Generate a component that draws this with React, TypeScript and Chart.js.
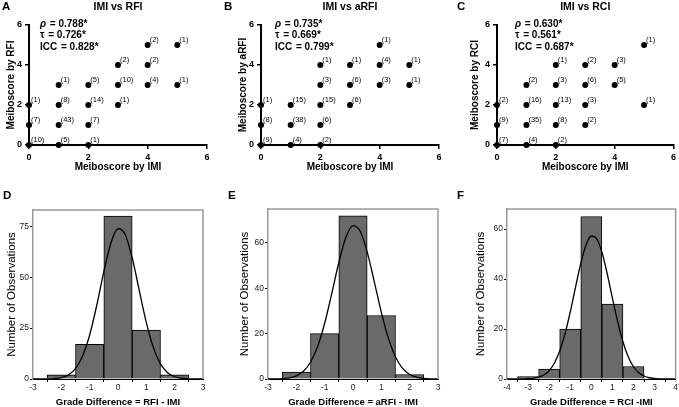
import React, { useEffect, useRef } from 'react';
import { Chart, registerables } from 'chart.js';

Chart.register(...registerables);

const FONT = "'Liberation Sans', Arial, Helvetica, sans-serif";

// ---------- Scatter panels (A, B, C) ----------
const scoreTicks = [0, 2, 4, 6];

const aImi = [0, 0, 0, 1, 1, 1, 1, 2, 2, 2, 2, 3, 3, 3, 4, 4, 4, 5, 5];
const aRfi = [0, 1, 2, 0, 1, 2, 3, 0, 1, 2, 3, 2, 3, 4, 3, 4, 5, 3, 5];
const aCounts = [10, 7, 1, 5, 43, 8, 1, 1, 7, 14, 5, 1, 10, 2, 4, 2, 2, 1, 1];
const aStats = ['0.788*', '0.726*', '0.828*'];

const bImi = [0, 0, 0, 1, 1, 1, 2, 2, 2, 2, 2, 3, 3, 3, 4, 4, 4, 5, 5];
const bArfi = [0, 1, 2, 0, 1, 2, 0, 1, 2, 3, 4, 2, 3, 4, 3, 4, 5, 3, 4];
const bCounts = [9, 8, 1, 4, 38, 15, 2, 6, 15, 3, 1, 6, 6, 1, 3, 4, 1, 1, 1];
const bStats = ['0.735*', '0.669*', '0.799*'];

const cImi = [0, 0, 0, 1, 1, 1, 1, 2, 2, 2, 2, 2, 3, 3, 3, 3, 4, 4, 5, 5];
const cRci = [0, 1, 2, 0, 1, 2, 3, 0, 1, 2, 3, 4, 1, 2, 3, 4, 3, 4, 2, 5];
const cCounts = [7, 9, 2, 4, 35, 16, 2, 2, 8, 13, 3, 1, 2, 3, 6, 2, 5, 3, 1, 1];
const cStats = ['0.630*', '0.561*', '0.687*'];

const statNames = ['ρ', 'τ', 'ICC'];

// ---------- Histogram panels (D, E, F) ----------
const dBins = [-2, -1, 0, 1, 2];
const dCounts = [2, 17, 80, 24, 2];
const dXTicks = [-3, -2, -1, 0, 1, 2, 3];
const dYTicks = [0, 25, 50, 75];
const dCurveX = [-3, -2.75, -2.5, -2.25, -2, -1.75, -1.5, -1.25, -1, -0.75, -0.5, -0.25, 0, 0.25, 0.5, 0.75, 1, 1.25, 1.5, 1.75, 2, 2.25, 2.5, 2.75, 3];
const dCurveY = [0, 0.01, 0.05, 0.21, 0.7, 2.0, 5.1, 11.3, 21.6, 36.2, 52.7, 66.8, 73.8, 71.1, 59.6, 43.5, 27.7, 15.4, 7.4, 3.1, 1.1, 0.36, 0.1, 0.02, 0];

const eBins = [-2, -1, 0, 1, 2];
const eCounts = [3, 20, 72, 28, 2];
const eXTicks = [-3, -2, -1, 0, 1, 2, 3];
const eYTicks = [0, 20, 40, 60];
const eCurveX = [-3, -2.75, -2.5, -2.25, -2, -1.75, -1.5, -1.25, -1, -0.75, -0.5, -0.25, 0, 0.25, 0.5, 0.75, 1, 1.25, 1.5, 1.75, 2, 2.25, 2.5, 2.75, 3];
const eCurveY = [0.01, 0.05, 0.17, 0.52, 1.4, 3.4, 7.4, 14.3, 24.6, 37.7, 51.4, 62.5, 67.7, 65.3, 56.1, 43.0, 29.4, 17.9, 9.7, 4.7, 2.0, 0.77, 0.26, 0.08, 0.02];

const fBins = [-3, -2, -1, 0, 1, 2];
const fCounts = [1, 4, 20, 65, 30, 5];
const fXTicks = [-4, -3, -2, -1, 0, 1, 2, 3, 4];
const fYTicks = [0, 20, 40, 60];
const fCurveX = [-4, -3.75, -3.5, -3.25, -3, -2.75, -2.5, -2.25, -2, -1.75, -1.5, -1.25, -1, -0.75, -0.5, -0.25, 0, 0.25, 0.5, 0.75, 1, 1.25, 1.5, 1.75, 2, 2.25, 2.5, 2.75, 3, 3.25, 3.5, 3.75, 4];
const fCurveY = [0, 0, 0.01, 0.04, 0.11, 0.29, 0.72, 1.6, 3.3, 6.4, 11.2, 18.0, 26.8, 36.7, 46.2, 53.6, 57.2, 56.2, 50.8, 42.3, 32.4, 22.9, 14.9, 8.9, 4.9, 2.5, 1.2, 0.5, 0.2, 0.07, 0.02, 0, 0];

type Pad = { left: number; right: number; top: number; bottom: number };

type ScatterProps = {
  left: number; top: number; width: number; height: number;
  pad: Pad; yWidth: number;
  xs: number[]; ys: number[]; counts: number[];
  title: string; letter: string; letterX: number;
  yTitle: string; stats: string[]; statsDx: number;
};

function ScatterPanel(props: ScatterProps) {
  const ref = useRef<HTMLCanvasElement>(null);
  useEffect(() => {
    const p = props;
    const decor = {
      id: 'decor',
      afterDatasetsDraw(chart: any) {
        const ctx = chart.ctx;
        const area = chart.chartArea;
        ctx.save();
        ctx.fillStyle = '#000';
        // count labels
        ctx.font = `7.5px ${FONT}`;
        ctx.textAlign = 'left';
        ctx.textBaseline = 'middle';
        const meta = chart.getDatasetMeta(0);
        meta.data.forEach((el: any, i: number) => {
          ctx.fillText(`(${p.counts[i]})`, el.x + 2, el.y - 5.5);
        });
        // panel letter
        ctx.font = `bold 11.5px ${FONT}`;
        ctx.fillText(p.letter, p.letterX, 7);
        // title
        ctx.textAlign = 'center';
        ctx.font = `bold 10.5px ${FONT}`;
        ctx.fillText(p.title, (area.left + area.right) / 2, 7);
        // stats
        ctx.textAlign = 'left';
        const sx = area.left + p.statsDx;
        statNames.forEach((name, i) => {
          const y = 24 + i * 11.5;
          ctx.font = (i === 0 ? 'italic ' : '') + `bold 10px ${FONT}`;
          ctx.fillText(name, sx, y);
          const w = ctx.measureText(name).width;
          ctx.font = `bold 10px ${FONT}`;
          ctx.fillText(' = ' + p.stats[i], sx + w + 1, y);
        });
        ctx.restore();
      },
    };
    const axisCommon = {
      type: 'linear' as const,
      min: 0,
      max: 6,
      afterBuildTicks: (s: any) => { s.ticks = scoreTicks.map((v) => ({ value: v })); },
      border: { display: true, color: '#000', width: 2 },
      grid: { display: true, drawOnChartArea: false, drawTicks: true, tickLength: 4, color: '#000', lineWidth: 1.5 },
      ticks: { color: '#000', font: { family: FONT, size: 9, weight: 'bold' as const }, padding: 3, maxRotation: 0, autoSkip: false },
    };
    const chart = new Chart(ref.current!, {
      type: 'scatter',
      data: {
        datasets: [{
          data: p.xs.map((x, i) => ({ x, y: p.ys[i] })),
          pointRadius: 3,
          pointHoverRadius: 3,
          backgroundColor: '#000',
          borderColor: '#000',
          borderWidth: 0,
          clip: false as any,
        }],
      },
      options: {
        responsive: false,
        animation: false,
        events: [],
        layout: { padding: p.pad },
        plugins: { legend: { display: false }, tooltip: { enabled: false } },
        scales: {
          x: {
            ...axisCommon,
            position: 'bottom',
            afterFit: (s: any) => { s.height = 30; },
            title: { display: true, text: 'Meiboscore by IMI', color: '#000', font: { family: FONT, size: 10, weight: 'bold' }, padding: { top: 0, bottom: 2 } },
          },
          y: {
            ...axisCommon,
            position: 'left',
            afterFit: (s: any) => { s.width = p.yWidth; },
            title: { display: true, text: p.yTitle, color: '#000', font: { family: FONT, size: 10, weight: 'bold' }, padding: { top: 2.5, bottom: 0 } },
          },
        },
      } as any,
      plugins: [decor],
    });
    return () => chart.destroy();
  }, []);
  return (
    <canvas
      ref={ref}
      width={props.width}
      height={props.height}
      style={{ position: 'absolute', left: props.left, top: props.top, width: props.width, height: props.height }}
    />
  );
}

type HistProps = {
  left: number; top: number; width: number; height: number;
  pad: Pad; yWidth: number;
  bins: number[]; counts: number[]; curveX: number[]; curveY: number[];
  xTicks: number[]; yTicks: number[]; xMin: number; xMax: number; yMax: number;
  xTitle: string; letter: string; letterX: number;
};

function HistPanel(props: HistProps) {
  const ref = useRef<HTMLCanvasElement>(null);
  useEffect(() => {
    const p = props;
    const decor = {
      id: 'decor',
      afterDraw(chart: any) {
        const ctx = chart.ctx;
        const { left, right, top, bottom } = chart.chartArea;
        ctx.save();
        ctx.strokeStyle = '#9a9a9a';
        ctx.lineWidth = 1.5;
        ctx.beginPath();
        ctx.moveTo(left, top);
        ctx.lineTo(right, top);
        ctx.lineTo(right, bottom);
        ctx.stroke();
        ctx.fillStyle = '#000';
        ctx.font = `bold 11.5px ${FONT}`;
        ctx.textAlign = 'left';
        ctx.textBaseline = 'middle';
        ctx.fillText(p.letter, p.letterX, 11);
        ctx.restore();
      },
    };
    const chart = new Chart(ref.current!, {
      type: 'bar',
      data: {
        datasets: [
          {
            type: 'line',
            data: p.curveX.map((x, i) => ({ x, y: p.curveY[i] })),
            borderColor: '#000',
            borderWidth: 1.3,
            pointRadius: 0,
            tension: 0.4,
            cubicInterpolationMode: 'monotone',
            fill: false,
            order: 0,
          },
          {
            type: 'bar',
            data: p.bins.map((x, i) => ({ x, y: p.counts[i] })),
            backgroundColor: '#6a6a6a',
            borderColor: '#000',
            borderWidth: 1,
            barPercentage: 1,
            categoryPercentage: 1,
            order: 1,
          },
        ],
      } as any,
      options: {
        responsive: false,
        animation: false,
        events: [],
        layout: { padding: p.pad },
        plugins: { legend: { display: false }, tooltip: { enabled: false } },
        scales: {
          x: {
            type: 'linear',
            min: p.xMin,
            max: p.xMax,
            offset: false,
            afterBuildTicks: (s: any) => { s.ticks = p.xTicks.map((v) => ({ value: v })); },
            afterFit: (s: any) => { s.height = 28; },
            border: { display: true, color: '#000', width: 1 },
            grid: { display: true, drawOnChartArea: false, drawTicks: true, tickLength: 3, color: '#000', lineWidth: 1 },
            ticks: { color: '#222', font: { family: FONT, size: 8.5 }, padding: 1, maxRotation: 0, autoSkip: false },
            title: { display: true, text: p.xTitle, color: '#000', font: { family: FONT, size: 9.5, weight: 'bold', lineHeight: 1 }, padding: { top: 0, bottom: 0 } },
          },
          y: {
            type: 'linear',
            min: 0,
            max: p.yMax,
            afterBuildTicks: (s: any) => { s.ticks = p.yTicks.map((v) => ({ value: v })); },
            afterFit: (s: any) => { s.width = p.yWidth; },
            border: { display: true, color: '#9a9a9a', width: 1.5 },
            grid: { display: true, drawOnChartArea: false, drawTicks: true, tickLength: 3, color: '#000', lineWidth: 1 },
            ticks: { color: '#222', font: { family: FONT, size: 8.5 }, padding: 1, autoSkip: false },
            title: { display: true, text: 'Number of Observations', color: '#000', font: { family: FONT, size: 11.5 }, padding: { top: 3, bottom: 0 } },
          },
        },
      } as any,
      plugins: [decor],
    });
    return () => chart.destroy();
  }, []);
  return (
    <canvas
      ref={ref}
      width={props.width}
      height={props.height}
      style={{ position: 'absolute', left: props.left, top: props.top, width: props.width, height: props.height }}
    />
  );
}

export default function App() {
  return (
    <div style={{ position: 'fixed', left: 0, top: 0, width: 679, height: 407, background: '#fff', overflow: 'hidden' }}>
      <ScatterPanel left={0} top={0} width={220} height={195} pad={{ left: 2.5, right: 13, top: 25, bottom: 20 }} yWidth={26.5}
        xs={aImi} ys={aRfi} counts={aCounts} title="IMI vs RFI" letter="A" letterX={2} yTitle="Meiboscore by RFI" stats={aStats} statsDx={11} />
      <ScatterPanel left={220} top={0} width={232} height={195} pad={{ left: 14.5, right: 13, top: 25, bottom: 20 }} yWidth={26.5}
        xs={bImi} ys={bArfi} counts={bCounts} title="IMI vs aRFI" letter="B" letterX={4} yTitle="Meiboscore by aRFI" stats={bStats} statsDx={14} />
      <ScatterPanel left={450} top={0} width={229} height={195} pad={{ left: 16.5, right: 5, top: 25, bottom: 20 }} yWidth={30.5}
        xs={cImi} ys={cRci} counts={cCounts} title="IMI vs RCI" letter="C" letterX={7} yTitle="Meiboscore by RCI" stats={cStats} statsDx={18} />

      <HistPanel left={0} top={185} width={220} height={222} pad={{ left: 2, right: 17, top: 25, bottom: 0 }} yWidth={31}
        bins={dBins} counts={dCounts} curveX={dCurveX} curveY={dCurveY} xTicks={dXTicks} yTicks={dYTicks}
        xMin={-3} xMax={3} yMax={83} xTitle="Grade Difference = RFI - IMI" letter="D" letterX={3} />
      <HistPanel left={220} top={185} width={232} height={222} pad={{ left: 15, right: 14, top: 24, bottom: 0 }} yWidth={33}
        bins={eBins} counts={eCounts} curveX={eCurveX} curveY={eCurveY} xTicks={eXTicks} yTicks={eYTicks}
        xMin={-3} xMax={3} yMax={75} xTitle="Grade Difference = aRFI - IMI" letter="E" letterX={8} />
      <HistPanel left={450} top={185} width={229} height={222} pad={{ left: 21, right: 3, top: 24, bottom: 0 }} yWidth={36}
        bins={fBins} counts={fCounts} curveX={fCurveX} curveY={fCurveY} xTicks={fXTicks} yTicks={fYTicks}
        xMin={-4} xMax={4} yMax={68} xTitle="Grade Difference = RCI -IMI" letter="F" letterX={7} />
    </div>
  );
}
